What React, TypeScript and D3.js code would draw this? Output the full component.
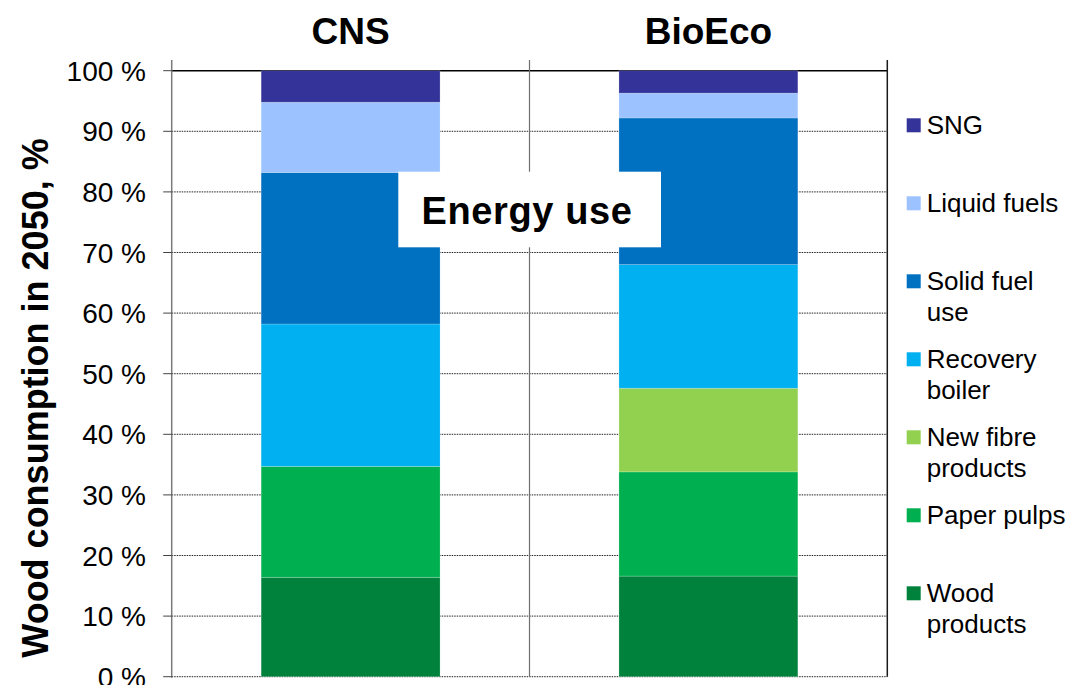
import React from "react";
import * as d3 from "d3";

const categories = ["CNS", "BioEco"];
const seriesNames = [
  "Wood products",
  "Paper pulps",
  "New fibre products",
  "Recovery boiler",
  "Solid fuel use",
  "Liquid fuels",
  "SNG",
];
const woodProducts = [16.4, 16.6];
const paperPulps = [18.3, 17.2];
const newFibreProducts = [0, 13.8];
const recoveryBoiler = [23.5, 20.4];
const solidFuelUse = [25.0, 24.2];
const liquidFuels = [11.6, 4.1];
const sng = [5.2, 3.7];
const seriesColors = ["#00823D", "#00B050", "#92D050", "#00B0F0", "#0070C0", "#9CC3FF", "#333399"];
const legendLines = [
  ["Wood", "products"],
  ["Paper pulps"],
  ["New fibre", "products"],
  ["Recovery", "boiler"],
  ["Solid fuel", "use"],
  ["Liquid fuels"],
  ["SNG"],
];
const yTicks = [0, 10, 20, 30, 40, 50, 60, 70, 80, 90, 100];
const yAxisTitle = "Wood consumption in 2050, %";
const annotation = "Energy use";

const W = 1082;
const H = 685;
const FONT = "'Liberation Sans', Arial, Helvetica, sans-serif";

export default function App() {
  const left = 171.7;
  const right = 887.3;
  const top = 70.7;
  const bottom = 676.7;

  const x = d3.scaleBand<string>().domain(categories).range([left, right]).padding(0);
  const y = d3.scaleLinear().domain([0, 100]).range([bottom, top]);
  const bw = x.bandwidth();

  const valuesBySeries = [woodProducts, paperPulps, newFibreProducts, recoveryBoiler, solidFuelUse, liquidFuels, sng];
  const rows = categories.map((c, i) => {
    const r: Record<string, any> = { cat: c };
    seriesNames.forEach((s, k) => (r[s] = valuesBySeries[k][i]));
    return r;
  });
  const stacked = d3.stack<any>().keys(seriesNames)(rows);

  const legendX = 906.7;
  const legendTop = 125.3;
  const legendStep = 78;
  const legendOrder = seriesNames.map((_, i) => i).reverse();

  return (
    <svg
      width={W}
      height={H}
      style={{ position: "absolute", left: 0, top: 0, background: "#fff" }}
      fontFamily={FONT}
    >
      <rect x={0} y={0} width={W} height={H} fill="#fff" />
      {/* horizontal gridlines */}
      {yTicks.map((t) => (
        <line
          key={"g" + t}
          x1={left}
          x2={right}
          y1={y(t)}
          y2={y(t)}
          stroke={t === 100 ? "#000" : "#222"}
          strokeWidth={t === 100 ? 1.5 : 1}
          strokeDasharray={t === 100 ? undefined : "1.5,1"}
        />
      ))}
      {/* vertical category separators */}
      {categories.slice(1).map((c) => (
        <line key={"v" + c} x1={x(c)} x2={x(c)} y1={60} y2={bottom} stroke="#6f6f6f" strokeWidth={1.2} />
      ))}
      <line x1={right} x2={right} y1={60} y2={bottom} stroke="#1a1a1a" strokeWidth={1.5} />
      {/* left axis */}
      <line x1={left} x2={left} y1={60} y2={bottom + 1} stroke="#7a7a7a" strokeWidth={1.5} />
      {yTicks.map((t) => (
        <line key={"t" + t} x1={left - 8.5} x2={left} y1={y(t)} y2={y(t)} stroke="#444" strokeWidth={1} />
      ))}
      {yTicks.map((t) => (
        <text key={"l" + t} x={146} y={y(t) + 10} textAnchor="end" fontSize={28} fill="#000">
          {t} %
        </text>
      ))}
      {/* bars */}
      {stacked.map((layer, k) => (
        <g key={layer.key} fill={seriesColors[k]}>
          {layer.map((d, i) =>
            d[1] - d[0] > 0 ? (
              <rect
                key={i}
                x={(x(categories[i]) as number) + bw * 0.25}
                y={y(d[1])}
                width={bw * 0.5}
                height={y(d[0]) - y(d[1])}
                stroke="rgba(255,255,255,0.25)"
                strokeWidth={0.8}
              />
            ) : null
          )}
        </g>
      ))}
      {/* category titles */}
      {categories.map((c) => (
        <text
          key={"c" + c}
          x={(x(c) as number) + bw / 2}
          y={44}
          textAnchor="middle"
          fontSize={37}
          fontWeight="bold"
          fill="#000"
        >
          {c}
        </text>
      ))}
      {/* annotation box */}
      <rect x={398.3} y={171.7} width={262.7} height={75.6} fill="#fff" />
      <text x={527} y={224} textAnchor="middle" fontSize={38} fontWeight="bold" letterSpacing={0.6} fill="#000">
        {annotation}
      </text>
      {/* y axis title */}
      <text
        transform={`translate(48,398) rotate(-90)`}
        textAnchor="middle"
        fontSize={36}
        fontWeight="bold"
        fill="#000"
      >
        {yAxisTitle}
      </text>
      {/* legend */}
      {legendOrder.map((k, j) => {
        const cy = legendTop + j * legendStep;
        return (
          <g key={"lg" + k}>
            <rect x={legendX} y={cy - 7} width={14} height={14} fill={seriesColors[k]} />
            {legendLines[k].map((ln, li) => (
              <text key={li} x={926.7} y={cy + 8.5 + li * 31} fontSize={26} fill="#000">
                {ln}
              </text>
            ))}
          </g>
        );
      })}
    </svg>
  );
}
